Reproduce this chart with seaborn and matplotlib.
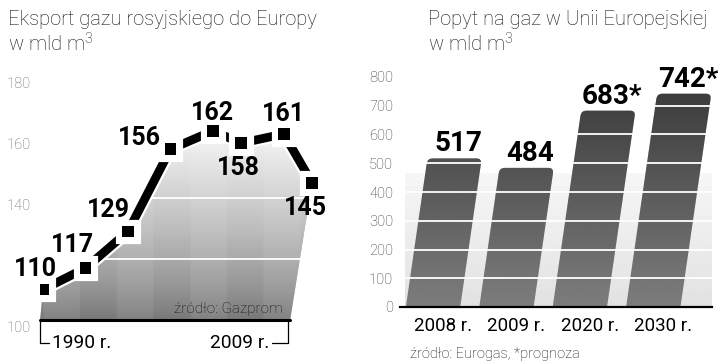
import numpy as np
import seaborn as sns
import matplotlib.pyplot as plt
import matplotlib.patheffects as pe
from matplotlib.patches import FancyBboxPatch
from matplotlib.transforms import Affine2D, ScaledTranslation

# --- dane: eksport gazu rosyjskiego do Europy (mld m3) ---
lata = [1990, 1993, 1996, 1999, 2002, 2004, 2007, 2009]
eksport = [110, 117, 129, 156, 162, 158, 161, 145]
# przesuniecia etykiet wartosci (piksele)
etyk_dx = [-8, -13, -20, -31, 0, -3, 0, -7]
etyk_dy = [22, 25, 24, 13, 20, -23, 22, -23]
lewe_yticks = [100, 140, 160, 180]

# --- dane: popyt na gaz w UE (mld m3) ---
okresy = ["2008 r.", "2009 r.", "2020 r.", "2030 r."]
popyt = [517, 484, 683, 742]
prognoza = [False, False, True, True]
prawe_yticks = [0, 100, 200, 300, 400, 500, 600, 700, 800]

sns.set_theme(style="white")
plt.rcParams["font.family"] = ["Roboto", "DejaVu Sans"]
plt.rcParams["mathtext.fontset"] = "custom"
plt.rcParams["mathtext.rm"] = "Roboto:light"
plt.rcParams["mathtext.it"] = "Roboto:light"
WASKI = ["Liberation Sans Narrow", "Roboto", "DejaVu Sans"]

W, H = 720, 364
fig = plt.figure(figsize=(W / 100, H / 100), dpi=100)


def pozycja(x0, y0, x1, y1):
    # prostokat w pikselach (od gory) -> wspolrzedne figury
    return [x0 / W, 1 - y1 / H, (x1 - x0) / W, (y1 - y0) / H]


def px_y(y):
    return 1 - y / H


# ---------------------------------------------------------------------------
# Tytuly
# ---------------------------------------------------------------------------
for x0, tytul in [(8, "Eksport gazu rosyjskiego do Europy"), (428, "Popyt na gaz w Unii Europejskiej")]:
    fig.text(x0 / W, px_y(25), tytul, fontsize=14.5, fontweight="light", color="#111111", va="baseline")
    fig.text(x0 / W, px_y(52), r"w mld m$^{\mathrm{3}}$", fontsize=14.5, fontweight="light",
             color="#111111", va="baseline")

# ---------------------------------------------------------------------------
# Lewy wykres - linia
# ---------------------------------------------------------------------------
ax1 = fig.add_axes(pozycja(40, 76, 320, 320))
ax1.set_xlim(1989.79, 2009.56)
ax1.set_ylim(100, 180)

x_pole = lata + [2007.45, 1989.8]
y_pole = eksport + [100, 100]
pole = ax1.fill(x_pole, y_pole, color="#bbbbbb", lw=0, zorder=1)[0]

# gradient z kolumnami
ny, nx = 200, 400
t = np.linspace(0, 1, ny)[:, None]
xs = np.linspace(1989.8, 2009.2, nx)[None, :]
kolumny = np.where((((xs - 1990) // 2.6) % 2) == 0, 0.0, -0.035)
jasnosc = np.clip(0.50 + 0.47 * t ** 0.8 + kolumny * (1 - t), 0, 1)
im = ax1.imshow(jasnosc, cmap="gray", vmin=0, vmax=1, origin="lower",
                extent=(1989.8, 2009.2, 100, 163), aspect="auto", zorder=1.5,
                interpolation="bilinear")
im.set_clip_path(pole)
ax1.set_xlim(1989.79, 2009.56)
ax1.set_ylim(100, 180)

for g in [120, 140]:
    ax1.axhline(g, color="white", lw=1.3, zorder=2)

sns.lineplot(x=lata, y=eksport, ax=ax1, color="black", lw=6.3, marker="s",
             markersize=8.5, markeredgewidth=0, zorder=5,
             path_effects=[pe.Stroke(linewidth=9.5, foreground="white"), pe.Normal()])

for x, v, dx, dy in zip(lata, eksport, etyk_dx, etyk_dy):
    ax1.annotate(str(v), (x, v), xytext=(dx, dy - 9), textcoords="offset pixels",
                 ha="center", va="baseline", fontsize=18, fontweight="bold",
                 family=WASKI, color="black", zorder=6)

# podstawa i klamry
ax1.plot([1989.8, 2007.45], [100, 100], color="black", lw=2.2, clip_on=False, zorder=4)
ax1.plot([1989.8, 1989.8, 1990.45], [100, 92.5, 92.5], color="black", lw=0.9, clip_on=False)
ax1.plot([2006.2, 2007.3, 2007.3], [92.5, 92.5, 100], color="black", lw=0.9, clip_on=False)
ax1.text(1990.65, 92.5, "1990 r.", fontsize=13.8, va="center", ha="left", color="black")
ax1.text(2005.95, 92.5, "2009 r.", fontsize=13.8, va="center", ha="right", color="black")
ax1.text(2006.9, 102.2, "źródło: Gazprom", fontsize=11, fontweight="light",
         ha="right", va="baseline", color="#111111", zorder=6)

ax1.set_yticks(lewe_yticks)
ax1.set_xticks([])
ax1.tick_params(axis="y", length=0, pad=7, labelsize=10.5, labelcolor="#666666")
for lab in ax1.get_yticklabels():
    lab.set_fontweight("light")
    lab.set_transform(lab.get_transform() + ScaledTranslation(0, -0.07, fig.dpi_scale_trans))
for s in ax1.spines.values():
    s.set_visible(False)
ax1.set_xlabel("")
ax1.set_ylabel("")
ax1.patch.set_alpha(0)

# ---------------------------------------------------------------------------
# Prawy wykres - slupki
# ---------------------------------------------------------------------------
ax2 = fig.add_axes(pozycja(400, 77, 712, 307))
sns.barplot(x=okresy, y=popyt, ax=ax2, color="#5b5b5b", width=0.74, saturation=1, zorder=2)
ax2.set_xlim(-0.45, 3.80)
ax2.set_ylim(0, 800)

# tlo
tlo = np.linspace(0.885, 0.965, 100)[:, None] * np.ones((1, 10))
ax2.imshow(tlo, cmap="gray", vmin=0, vmax=1, origin="lower", extent=(-0.38, 3.8, 0, 466),
           aspect="auto", zorder=0.5)
ax2.set_xlim(-0.45, 3.80)
ax2.set_ylim(0, 800)

# pochylenie slupkow (w pikselach)
y0 = ax2.transData.transform((0, 0))[1]
skos = Affine2D().translate(0, -y0).skew(np.arctan(0.145), 0).translate(0, y0)
tr = ax2.transData + skos

for p in list(ax2.patches):
    x, w, h = p.get_x(), p.get_width(), p.get_height()
    p.set_transform(tr)
    zaokr = FancyBboxPatch((x, -40), w, h + 40,
                           boxstyle="round,pad=0,rounding_size=0.075",
                           mutation_aspect=255, transform=tr)
    p.set_clip_path(zaokr)
    gy = np.linspace(0, h, 100)[:, None] * np.ones((1, 4))
    gr = ax2.imshow(0.49 - 0.27 * gy / 800, cmap="gray", vmin=0, vmax=1, origin="lower",
                    extent=(x - 0.05, x + w + 0.5, 0, h), aspect="auto", zorder=2.5,
                    interpolation="bilinear")
    gr.set_clip_path(zaokr)
ax2.set_xlim(-0.45, 3.80)
ax2.set_ylim(0, 800)

for g in prawe_yticks[1:-1]:
    ax2.axhline(g, color="white", lw=1.3, zorder=3)

for i, (v, pr) in enumerate(zip(popyt, prognoza)):
    napis = f"{v}*" if pr else f"{v}"
    ax2.annotate(napis, (i, v), xycoords=tr, xytext=(4, 7), textcoords="offset pixels",
                 ha="center", va="baseline", fontsize=20, fontweight="bold",
                 family=WASKI, color="black", zorder=6)

ax2.set_yticks(prawe_yticks)
ax2.tick_params(axis="y", length=0, pad=5, labelsize=10.5, labelcolor="#333333")
ax2.tick_params(axis="x", length=0, pad=7, labelsize=13.5, labelcolor="black")
for lab in ax2.get_yticklabels():
    lab.set_fontweight("light")
for lab in ax2.get_xticklabels():
    lab.set_transform(lab.get_transform() + ScaledTranslation(0.1, 0, fig.dpi_scale_trans))
for nazwa, s in ax2.spines.items():
    s.set_visible(nazwa == "bottom")
ax2.spines["bottom"].set_color("black")
ax2.spines["bottom"].set_linewidth(1.6)
ax2.set_xlabel("")
ax2.set_ylabel("")
ax2.patch.set_alpha(0)

fig.text(410 / W, px_y(358), "źródło: Eurogas, *prognoza", fontsize=10.5,
         fontweight="light", color="#111111", va="baseline")

fig.savefig("out.png", dpi=100)
